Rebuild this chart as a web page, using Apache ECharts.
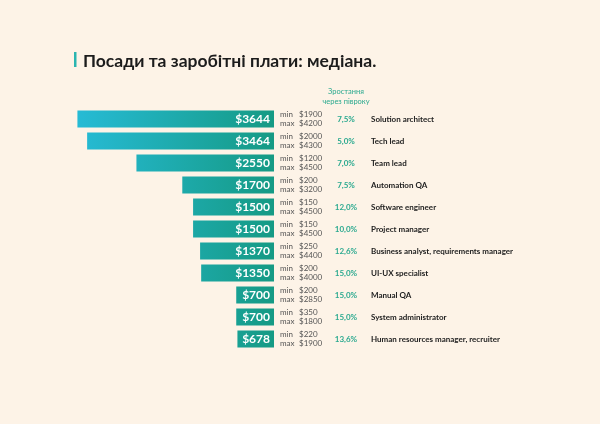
<!DOCTYPE html>
<html><head><meta charset="utf-8">
<script src="https://cdn.jsdelivr.net/npm/echarts@6/dist/echarts.min.js"></script>
<style>html,body{margin:0;padding:0;background:#fdf3e7;}#c{width:600px;height:424px;}</style>
</head><body><div id="c"></div>
<script>
const positions = ['Solution architect','Tech lead','Team lead','Automation QA','Software engineer','Project manager','Business analyst, requirements manager','UI-UX specialist','Manual QA','System administrator','Human resources manager, recruiter'];
const medians = [3644,3464,2550,1700,1500,1500,1370,1350,700,700,678];
const mins = [1900,2000,1200,200,150,150,250,200,200,350,220];
const maxs = [4200,4300,4500,3200,4500,4500,4400,4000,2850,1800,1900];
const growth = ['7,5%','5,0%','7,0%','7,5%','12,0%','10,0%','12,6%','15,0%','15,0%','15,0%','13,6%'];
const titleText = 'Посади та заробітні плати: медіана.';
const growthHeader = 'Зростання\nчерез півроку';

const chart = echarts.init(document.getElementById('c'));
const FONT = 'Lato';
const rangeLabels = mins.map((m,i)=>'{k|min}{v|$'+m+'}\n{k|max}{v|$'+maxs[i]+'}');
const baseY = {type:'category', inverse:true, position:'right', axisLine:{show:false}, axisTick:{show:false}};
chart.setOption({
  backgroundColor:'#fdf3e7',
  animation:false,
  title:{text:titleText, left:78, top:47, textStyle:{fontFamily:FONT, fontSize:17.5, fontWeight:'bold', color:'#1c1c1c'}},
  graphic:[
    {type:'rect', shape:{x:74, y:52, width:2.5, height:15}, style:{fill:'#2bb5b0'}},
    {type:'text', x:346, y:87, style:{text:growthHeader, font:'7.5px '+FONT, fill:'#2aa98f', align:'center', lineHeight:10}}
  ],
  grid:{left:69, right:326, top:108, bottom:74},
  xAxis:{type:'value', inverse:true, min:0, max:3800, show:false},
  yAxis:[
    Object.assign({}, baseY, {data:rangeLabels, offset:0, axisLabel:{margin:6, align:'left', lineHeight:9,
      rich:{k:{width:19, fontSize:8, fontFamily:FONT, color:'#555', lineHeight:9}, v:{fontSize:8, fontFamily:FONT, color:'#555', lineHeight:9}}}}),
    Object.assign({}, baseY, {data:growth, offset:72, axisLabel:{margin:0, align:'center', fontSize:8, fontWeight:'bold', fontFamily:FONT, color:'#2aa98f'}}),
    Object.assign({}, baseY, {data:positions, offset:97, axisLabel:{margin:0, align:'left', fontSize:8, fontWeight:'bold', fontFamily:FONT, color:'#222'}})
  ],
  series:[{
    type:'bar', yAxisIndex:0, data:medians, barWidth:17,
    itemStyle:{color:{type:'linear', x:70, y:0, x2:274, y2:0, global:true,
      colorStops:[{offset:0,color:'#27bcd8'},{offset:1,color:'#159a84'}]}},
    label:{show:true, position:'insideRight', distance:4, formatter:p=>'$'+p.value, color:'#fff', fontFamily:FONT, fontWeight:'bold', fontSize:12}
  }]
});
</script></body></html>
